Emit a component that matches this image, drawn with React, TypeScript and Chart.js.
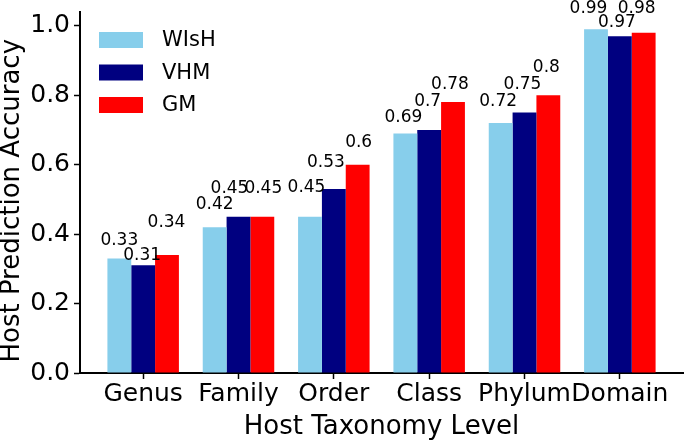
import React, { useEffect, useRef } from "react";
import { Chart, registerables } from "chart.js";

Chart.register(...registerables);

const categories = ["Genus", "Family", "Order", "Class", "Phylum", "Domain"];
const seriesNames = ["WIsH", "VHM", "GM"];
const wishValues = [0.33, 0.42, 0.45, 0.69, 0.72, 0.99];
const vhmValues = [0.31, 0.45, 0.53, 0.7, 0.75, 0.97];
const gmValues = [0.34, 0.45, 0.6, 0.78, 0.8, 0.98];
const yTicks = [0, 0.2, 0.4, 0.6, 0.8, 1.0];

// annotation placement (pixels): horizontal shift and lift above bar top
const labelShift = [
  [0, 0, -3.5, -2, -2.5, -7.5],
  [-1, -9, -8, -1.5, -2, -3],
  [-0.5, 1, 1, -3, -2, -7],
];
const labelLift = [
  [13, 18, 25, 11, 17, 16],
  [5, 24, 22, 24, 24, 9],
  [28, 24, 18, 13, 23, 20],
];

const colors = ["#87CEEB", "#000080", "#FF0000"];
const FONT = "'DejaVu Sans', sans-serif";

const valueLabels = {
  id: "valueLabels",
  afterDatasetsDraw(chart: any) {
    const ctx = chart.ctx;
    ctx.save();
    ctx.font = `17px ${FONT}`;
    ctx.fillStyle = "#000";
    ctx.textAlign = "center";
    ctx.textBaseline = "alphabetic";
    chart.data.datasets.forEach((ds: any, di: number) => {
      const meta = chart.getDatasetMeta(di);
      meta.data.forEach((bar: any, i: number) => {
        const v = ds.data[i].y;
        ctx.fillText(String(v), bar.x + labelShift[di][i], bar.y - labelLift[di][i]);
      });
    });
    ctx.restore();
  },
};

const boxLegend = {
  id: "boxLegend",
  afterDatasetsDraw(chart: any) {
    const ctx = chart.ctx;
    const area = chart.chartArea;
    ctx.save();
    ctx.font = `21px ${FONT}`;
    ctx.textBaseline = "middle";
    ctx.textAlign = "left";
    chart.data.datasets.forEach((ds: any, di: number) => {
      const cy = area.top + 28 + di * 32.5;
      const x0 = area.left + 19;
      ctx.fillStyle = ds.backgroundColor;
      ctx.fillRect(x0, cy - 8, 44, 16);
      ctx.fillStyle = "#000";
      ctx.fillText(ds.label, x0 + 63, cy + 1);
    });
    ctx.restore();
  },
};

export default function App() {
  const ref = useRef<HTMLCanvasElement>(null);
  useEffect(() => {
    document.body.style.margin = "0";
    const seriesValues = [wishValues, vhmValues, gmValues];
    const chart = new Chart(ref.current!, {
      type: "bar",
      data: {
        datasets: seriesValues.map((vals, si) => ({
          label: seriesNames[si],
          data: vals.map((v, i) => ({ x: i, y: v })),
          backgroundColor: colors[si],
          borderWidth: 0,
          categoryPercentage: 0.75,
          barPercentage: 1,
        })),
      },
      options: {
        responsive: false,
        animation: false,
        devicePixelRatio: 1,
        layout: { padding: { top: 12, right: 2, left: 0, bottom: 0 } },
        plugins: { legend: { display: false }, tooltip: { enabled: false } },
        scales: {
          x: {
            type: "linear",
            offset: false,
            min: -0.6625,
            max: 5.6625,
            afterFit: (s: any) => {
              s.height = 68;
              s.paddingLeft = 0;
              s.paddingRight = 0;
            },
            afterBuildTicks: (s: any) => {
              s.ticks = categories.map((_, i) => ({ value: i }));
            },
            ticks: {
              autoSkip: false,
              maxRotation: 0,
              color: "#000",
              font: { family: FONT, size: 25 },
              padding: 0,
              callback: (v: any) => categories[Math.round(v)] ?? "",
            },
            grid: {
              offset: false,
              drawOnChartArea: false,
              drawTicks: true,
              tickLength: 6,
              tickWidth: 1.5,
              tickColor: "#000",
            },
            border: { display: true, color: "#000", width: 2 },
            title: {
              display: true,
              text: "Host Taxonomy Level",
              color: "#000",
              font: { family: FONT, size: 26 },
              padding: { top: 0, bottom: -2 },
            },
          },
          y: {
            min: 0,
            max: 1.0395,
            afterFit: (s: any) => {
              s.width = 80;
              s.paddingTop = 0;
              s.paddingBottom = 0;
            },
            afterBuildTicks: (s: any) => {
              s.ticks = yTicks.map((v) => ({ value: v }));
            },
            ticks: {
              color: "#000",
              font: { family: FONT, size: 25 },
              padding: 4,
              callback: (v: any) => Number(v).toFixed(1),
            },
            grid: {
              drawOnChartArea: false,
              drawTicks: true,
              tickLength: 6,
              tickWidth: 1.5,
              tickColor: "#000",
            },
            border: { display: true, color: "#000", width: 2 },
            title: {
              display: true,
              text: "Host Prediction Accuracy  ",
              color: "#000",
              font: { family: FONT, size: 26 },
              padding: { top: -3, bottom: 0 },
            },
          },
        },
      },
      plugins: [valueLabels, boxLegend],
    });
    return () => chart.destroy();
  }, []);
  return (
    <div style={{ width: 685, height: 441 }}>
      <canvas ref={ref} width={685} height={441} />
    </div>
  );
}
